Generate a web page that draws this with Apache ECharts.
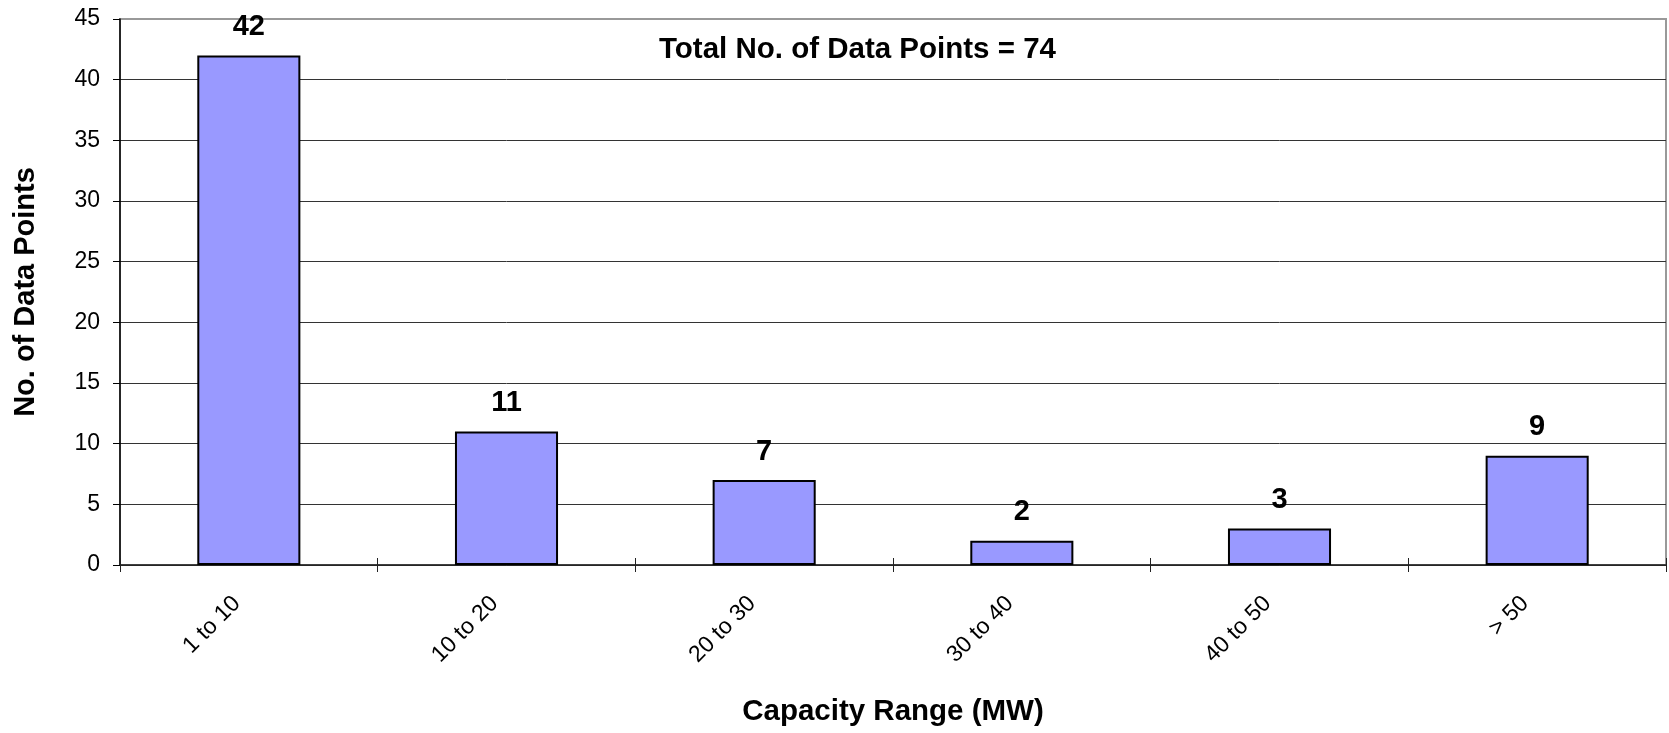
<!DOCTYPE html>
<html>
<head>
<meta charset="utf-8">
<script src="https://cdn.jsdelivr.net/npm/echarts@6/dist/echarts.min.js"></script>
<style>
html,body{margin:0;padding:0;background:#fff;}
#chart{width:1669px;height:733px;}
</style>
</head>
<body>
<div id="chart"></div>
<script>
const categories = ['1 to 10', '10 to 20', '20 to 30', '30 to 40', '40 to 50', '> 50'];
const counts = [42, 11, 7, 2, 3, 9];
const yTicks = { min: 0, max: 45, interval: 5 };
const titleText = 'Total No. of Data Points = 74';
const xName = 'Capacity Range (MW)';
const yName = 'No. of Data Points';

const FONT = '"Liberation Sans", Arial, sans-serif';
const chart = echarts.init(document.getElementById('chart'));
const gridColors = [];
for (let v = yTicks.min; v <= yTicks.max; v += yTicks.interval) {
  gridColors.push(v === yTicks.max ? 'rgba(0,0,0,0)' : '#333');
}
chart.setOption({
  backgroundColor: '#fff',
  animation: false,
  grid: { left: 120, right: 3, top: 19, bottom: 168, show: true, borderColor: '#999', borderWidth: 2, backgroundColor: 'transparent' },
  graphic: [{
    type: 'text', left: 659, top: 35,
    style: { text: titleText, font: 'bold 29.5px ' + FONT, fill: '#000' }
  }],
  xAxis: [{
    type: 'category', data: categories, position: 'bottom',
    name: xName, nameLocation: 'middle', nameGap: 132,
    nameTextStyle: { fontFamily: FONT, fontWeight: 'bold', fontSize: 29.5, color: '#000' },
    axisLine: { lineStyle: { color: '#222', width: 1.5 } },
    axisTick: { show: true, alignWithLabel: false, length: 7, lineStyle: { color: '#222' } },
    axisLabel: { rotate: 45, margin: 23, padding: [0, 17, 0, 0], fontFamily: FONT, fontSize: 23, color: '#000' },
    splitLine: { show: false }
  }, {
    type: 'category', data: categories, position: 'bottom', offset: 0,
    axisLine: { show: false },
    axisTick: { show: true, inside: true, alignWithLabel: false, length: 7, lineStyle: { color: '#222' } },
    axisLabel: { show: false }, splitLine: { show: false }
  }],
  yAxis: {
    type: 'value', min: yTicks.min, max: yTicks.max, interval: yTicks.interval,
    name: yName, nameLocation: 'middle', nameGap: 80, nameRotate: 90,
    nameTextStyle: { fontFamily: FONT, fontWeight: 'bold', fontSize: 29, color: '#000' },
    axisLine: { show: true, lineStyle: { color: '#000', width: 1.5 } },
    axisTick: { show: true, length: 7, lineStyle: { color: '#000' } },
    axisLabel: { margin: 20, fontFamily: FONT, fontSize: 23, color: '#000' },
    splitLine: { show: true, lineStyle: { color: gridColors, width: 1 } }
  },
  series: [{
    type: 'bar', data: counts, xAxisIndex: 0, barWidth: '40%',
    itemStyle: { color: '#9999FF', borderColor: '#000', borderWidth: 2 },
    label: { show: true, position: 'top', distance: 14, fontFamily: FONT, fontWeight: 'bold', fontSize: 29, color: '#000' }
  }]
});
</script>
</body>
</html>
